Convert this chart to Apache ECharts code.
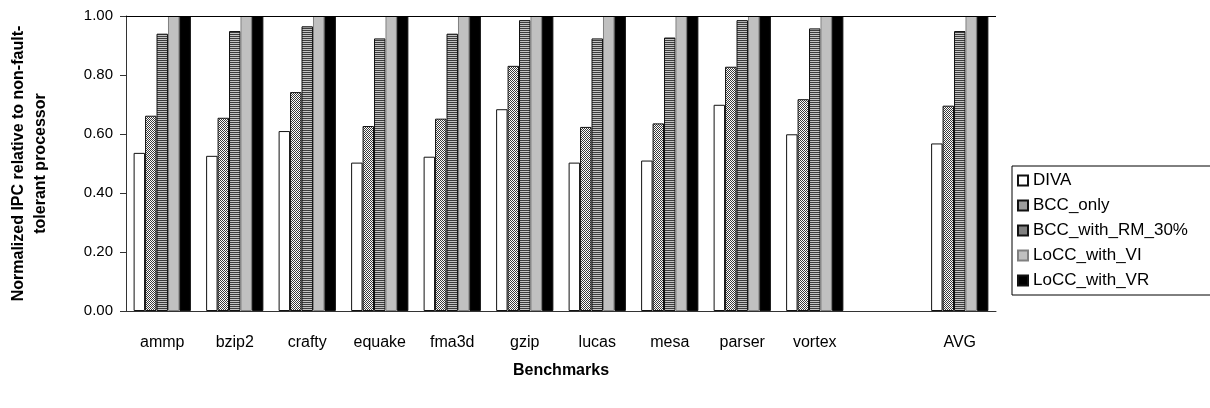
<!DOCTYPE html>
<html lang="en">

<head>
  <meta charset="UTF-8" />
  <title>Normalized IPC</title>
  <script src="https://cdn.jsdelivr.net/npm/echarts@6/dist/echarts.min.js"></script>
  <style>
    html, body { margin: 0; padding: 0; background: #fff; }
    #main { width: 1210px; height: 408px; }
  </style>
</head>

<body>
  <div id="main"></div>
</body>
<script>
  // 数据
  var categories = ["ammp", "bzip2", "crafty", "equake", "fma3d", "gzip", "lucas", "mesa", "parser", "vortex", "", "AVG"];
  var seriesNames = ["DIVA", "BCC_only", "BCC_with_RM_30%", "LoCC_with_VI", "LoCC_with_VR"];
  var diva = [0.536, 0.526, 0.610, 0.503, 0.523, 0.684, 0.503, 0.510, 0.699, 0.599, null, 0.568];
  var bccOnly = [0.662, 0.655, 0.742, 0.627, 0.652, 0.831, 0.624, 0.636, 0.828, 0.718, null, 0.696];
  var bccRM = [0.940, 0.949, 0.965, 0.924, 0.940, 0.986, 0.924, 0.927, 0.986, 0.958, null, 0.949];
  var loccVI = [1, 1, 1, 1, 1, 1, 1, 1, 1, 1, null, 1];
  var loccVR = [1, 1, 1, 1, 1, 1, 1, 1, 1, 1, null, 1];
  var yTicks = [0, 0.2, 0.4, 0.6, 0.8, 1.0];

  // 填充图案
  function makePattern(w, h, draw) {
    var c = document.createElement("canvas");
    c.width = w;
    c.height = h;
    draw(c.getContext("2d"));
    return { image: c, repeat: "repeat" };
  }
  var checker = makePattern(2, 2, function (ctx) {
    ctx.fillStyle = "#ffffff";
    ctx.fillRect(0, 0, 2, 2);
    ctx.fillStyle = "#3a3a3a";
    ctx.fillRect(0, 0, 1, 1);
    ctx.fillRect(1, 1, 1, 1);
  });
  var hlines = makePattern(2, 2, function (ctx) {
    ctx.fillStyle = "#c4c4c4";
    ctx.fillRect(0, 0, 2, 2);
    ctx.fillStyle = "#3c3c3c";
    ctx.fillRect(0, 0, 2, 1);
  });

  var fills = ["#ffffff", checker, hlines, "#c0c0c0", "#000000"];
  var values = [diva, bccOnly, bccRM, loccVI, loccVR];

  var myChart = echarts.init(document.getElementById("main"));

  var series = seriesNames.map(function (name, i) {
    var s = {
      name: name,
      type: "bar",
      barGap: "0%",
      barCategoryGap: "21%",
      data: values[i],
      itemStyle: {
        color: fills[i],
        borderColor: i === 3 ? "#808080" : "#111",
        borderWidth: 1
      }
    };
    if (i === 0) {
      // 顶部横线
      s.markLine = {
        silent: true,
        symbol: "none",
        label: { show: false },
        lineStyle: { color: "#000", type: "solid", width: 1 },
        data: [{ yAxis: yTicks[yTicks.length - 1] }]
      };
    }
    return s;
  });

  var option = {
    animation: false,
    textStyle: { fontFamily: "Liberation Sans, Arial, sans-serif" },
    grid: { left: 126, top: 16, right: 214, bottom: 97 },
    legend: {
      orient: "vertical",
      left: 1012,
      top: 166,
      icon: "rect",
      itemWidth: 10,
      itemHeight: 10,
      itemGap: 8,
      padding: [6, 40, 6, 5],
      borderColor: "#000",
      borderWidth: 1,
      textStyle: { fontSize: 17, color: "#000" },
      data: seriesNames
    },
    xAxis: {
      type: "category",
      data: categories,
      axisLine: { lineStyle: { color: "#333", width: 1 } },
      axisTick: { length: 5, lineStyle: { color: "#333" } },
      splitLine: { show: false },
      axisLabel: { color: "#000", fontSize: 16, margin: 24, interval: 0 },
      name: "Benchmarks",
      nameLocation: "middle",
      nameGap: 52,
      nameTextStyle: { fontSize: 16, fontWeight: "bold", color: "#000" }
    },
    yAxis: {
      type: "value",
      min: yTicks[0],
      max: yTicks[yTicks.length - 1],
      interval: 0.2,
      splitLine: { show: false },
      axisLine: { show: true, lineStyle: { color: "#333", width: 1 } },
      axisTick: { show: true, inside: false, length: 6, lineStyle: { color: "#333" } },
      axisLabel: {
        color: "#000",
        fontSize: 15,
        margin: 13,
        formatter: function (v) { return v.toFixed(2); }
      },
      name: "Normalized IPC relative to non-fault-\ntolerant processor",
      nameLocation: "middle",
      nameRotate: 90,
      nameGap: 74,
      nameTextStyle: { fontSize: 16, fontWeight: "bold", color: "#000", lineHeight: 22 }
    },
    series: series
  };

  myChart.setOption(option);
</script>

</html>
